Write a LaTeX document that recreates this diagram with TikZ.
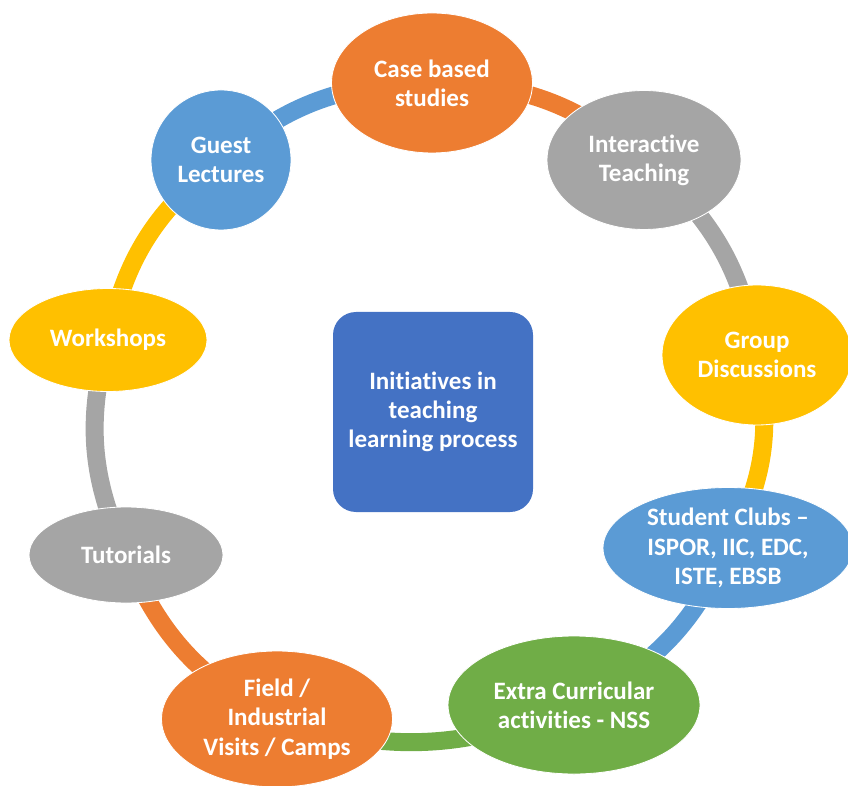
\documentclass[tikz,border=0pt]{standalone}
\usepackage{fontspec}
\setmainfont{Carlito}[Ligatures={NoCommon}]
\usetikzlibrary{shapes.geometric,backgrounds}
\definecolor{cOrange}{HTML}{ED7D31}
\definecolor{cGray}{HTML}{A5A5A5}
\definecolor{cYellow}{HTML}{FFC000}
\definecolor{cBlue}{HTML}{5B9BD5}
\definecolor{cGreen}{HTML}{70AD47}
\definecolor{cDark}{HTML}{4472C4}
\begin{document}
\begin{tikzpicture}[font=\fontsize{17.8}{20.8}\selectfont\bfseries,
  item/.style={ellipse,draw=white,line width=0.6pt,text=white,align=center,inner sep=0pt},
  ring/.style={line width=0.45cm}]
  \useasboundingbox (0,0) rectangle (21.2,19.625);
  \clip (0,0) rectangle (21.2,19.625);
  % caja central
  \node[fill=cDark,rounded corners=0.575cm,minimum size=5cm,text=white,align=center] (centre) at (10.825,9.325) {Initiatives in\\teaching\\learning process};
  % elipses del anillo
  \node[item,fill=cOrange,minimum width=5.025cm,minimum height=3.5cm] (case) at (10.8,17.55) {Case based\\studies};
  \node[item,fill=cGray,minimum width=4.85cm,minimum height=3.475cm] (inter) at (16.1,15.625) {Interactive\\Teaching};
  \node[item,fill=cYellow,minimum width=4.75cm,minimum height=3.5cm] (group) at (18.925,10.75) {Group\\Discussions};
  \node[item,fill=cBlue,minimum width=6.25cm,minimum height=3.025cm] (clubs) at (18.2,5.925) {Student Clubs --\\ISPOR, IIC, EDC,\\ISTE, EBSB};
  \node[item,fill=cGreen,minimum width=6.3cm,minimum height=3.45cm] (extra) at (14.35,2.0) {Extra Curricular\\activities - NSS};
  \node[item,fill=cOrange,minimum width=5.775cm,minimum height=3.4cm] (field) at (6.925,1.65) {Field /\\Industrial\\Visits / Camps};
  \node[item,fill=cGray,minimum width=4.85cm,minimum height=2.4cm] (tut) at (3.15,5.75) {Tutorials};
  \node[item,fill=cYellow,minimum width=4.95cm,minimum height=2.575cm] (work) at (2.7,11.125) {Workshops};
  \node[item,fill=cBlue,minimum width=3.5cm,minimum height=3.5cm] (guest) at (5.525,15.625) {Guest\\Lectures};
  % arcos
  \begin{pgfonlayer}{background}
    \draw[ring,cBlue] (guest.center) to[bend left=20] (case.center);
    \draw[ring,cOrange] (case.center) to[bend left=20] (inter.center);
    \draw[ring,cGray] (inter.center) to[bend left=20] (group.center);
    \draw[ring,cYellow] (group.center) to[bend left=20] (clubs.center);
    \draw[ring,cBlue] (clubs.center) to[bend left=20] (extra.center);
    \draw[ring,cGreen] (extra.center) to[bend left=20] (field.center);
    \draw[ring,cOrange] (field.center) to[bend left=20] (tut.center);
    \draw[ring,cGray] (tut.center) to[bend left=20] (work.center);
    \draw[ring,cYellow] (work.center) to[bend left=20] (guest.center);
  \end{pgfonlayer}
\end{tikzpicture}
\end{document}
